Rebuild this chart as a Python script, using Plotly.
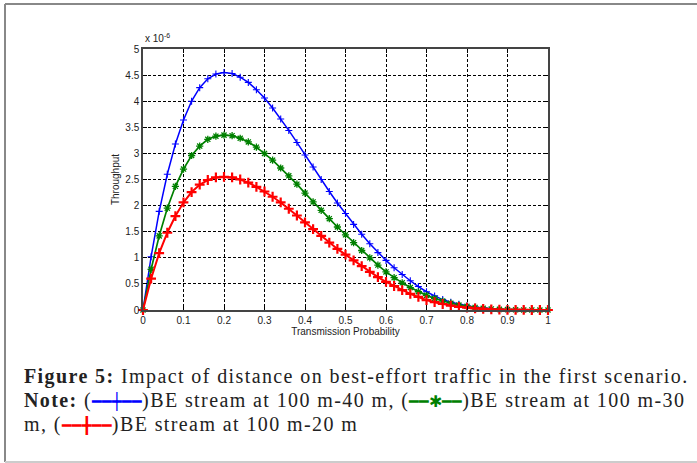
import plotly.graph_objects as go

# Transmission probability grid (0 to 1 in steps of 0.02)
prob = [round(i * 0.02, 2) for i in range(51)]

# Throughput (x 1e-6) for each BE stream
be_40m = [0, 1.02, 1.89, 2.60, 3.18, 3.64, 4.00, 4.26, 4.43, 4.52, 4.55, 4.53, 4.46, 4.36, 4.22,
          4.06, 3.87, 3.66, 3.44, 3.21, 2.97, 2.74, 2.50, 2.27, 2.05, 1.85, 1.64, 1.45, 1.27, 1.10,
          0.95, 0.81, 0.68, 0.56, 0.45, 0.35, 0.27, 0.20, 0.15, 0.11, 0.08, 0.055, 0.037, 0.024,
          0.014, 0.008, 0.004, 0.002, 0.001, 0, 0]
be_30m = [0, 0.78, 1.42, 1.95, 2.37, 2.70, 2.96, 3.14, 3.27, 3.33, 3.35, 3.34, 3.29, 3.22, 3.12,
          3.00, 2.87, 2.72, 2.57, 2.41, 2.24, 2.07, 1.91, 1.75, 1.59, 1.44, 1.29, 1.14, 1.00, 0.86,
          0.73, 0.62, 0.52, 0.43, 0.35, 0.28, 0.22, 0.17, 0.13, 0.095, 0.07, 0.05, 0.033, 0.02,
          0.012, 0.007, 0.004, 0.002, 0.001, 0, 0]
be_20m = [0, 0.60, 1.09, 1.48, 1.80, 2.06, 2.26, 2.40, 2.49, 2.54, 2.55, 2.54, 2.50, 2.44, 2.36,
          2.27, 2.17, 2.06, 1.94, 1.81, 1.68, 1.55, 1.42, 1.29, 1.17, 1.06, 0.95, 0.84, 0.73, 0.63,
          0.54, 0.46, 0.38, 0.31, 0.25, 0.19, 0.15, 0.115, 0.085, 0.06, 0.045, 0.03, 0.02, 0.012,
          0.007, 0.004, 0.002, 0.001, 0, 0, 0]

x_ticks = [0, 0.1, 0.2, 0.3, 0.4, 0.5, 0.6, 0.7, 0.8, 0.9, 1]
x_tick_text = ["0", "0.1", "0.2", "0.3", "0.4", "0.5", "0.6", "0.7", "0.8", "0.9", "1"]
y_ticks = [0, 0.5, 1, 1.5, 2, 2.5, 3, 3.5, 4, 4.5, 5]
y_tick_text = ["0", "0.5", "1", "1.5", "2", "2.5", "3", "3.5", "4", "4.5", "5"]

W, H = 697, 463
# plot box in pixels
left, right, top, bottom = 143, 548, 49, 310

fig = go.Figure()

series = [
    (be_40m, "#0000ff", "cross-thin", 5, 1.1, 1.5),
    (be_30m, "#008000", "asterisk-open", 6, 1.3, 1.7),
    (be_20m, "#ff0000", "cross-thin", 7, 2.2, 2.0),
]
for ys, col, sym, msize, mlw, lw in series:
    fig.add_trace(go.Scatter(
        x=prob, y=ys, mode="lines+markers", cliponaxis=False,
        line=dict(color=col, width=lw),
        marker=dict(symbol=sym, size=msize, line=dict(color=col, width=mlw)),
        showlegend=False,
    ))

axis_font = dict(family="Liberation Sans, Arial, sans-serif", size=10, color="#222")
grid_common = dict(
    showgrid=True, gridcolor="#000", gridwidth=1, griddash="3px,2px",
    ticks="inside", ticklen=4, tickcolor="#000", mirror="allticks",
    showline=True, linecolor="#444", linewidth=1.5, zeroline=False,
    tickfont=axis_font, automargin=False,
)

fig.update_layout(
    width=W, height=H,
    margin=dict(l=0, r=0, t=0, b=0),
    paper_bgcolor="white", plot_bgcolor="white",
    xaxis=dict(
        range=[0, 1], tickvals=x_ticks, ticktext=x_tick_text,
        domain=[left / W, right / W], anchor="y",
        title=dict(text="Transmission Probability", font=axis_font, standoff=2),
        **grid_common,
    ),
    yaxis=dict(
        range=[0, 5], tickvals=y_ticks, ticktext=y_tick_text,
        domain=[(H - bottom) / H, (H - top) / H], anchor="x",
        title=dict(text="Throughput", font=axis_font, standoff=4),
        **grid_common,
    ),
)

# exponent label above the y axis
fig.add_annotation(
    x=left / W, y=(H - top + 3) / H, xref="paper", yref="paper",
    xanchor="left", yanchor="bottom", showarrow=False,
    text="x 10<sup>-6</sup>", font=axis_font,
)

# outer frame of the figure panel
fig.add_shape(type="line", xref="paper", yref="paper", x0=5 / W, x1=1, y0=(H - 4) / H, y1=(H - 4) / H,
              line=dict(color="#888", width=2))
fig.add_shape(type="line", xref="paper", yref="paper", x0=5 / W, x1=5 / W, y0=(H - 4) / H, y1=1 / H,
              line=dict(color="#888", width=2))
fig.add_shape(type="line", xref="paper", yref="paper", x0=5 / W, x1=1, y0=1 / H, y1=1 / H,
              line=dict(color="#ccc", width=2))

cap_font = dict(family="Liberation Serif, Times New Roman, serif", size=20, color="#222")
spacing = "letter-spacing:1.4px"
sample = "letter-spacing:0px;font-size:16px;color:{}"
blue_s = f"<span style='{sample.format('#0000ff')}'>━━┿━━</span>"
green_s = f"<span style='{sample.format('#008000')}'>━━✱━━</span>"
red_s = f"<span style='{sample.format('#ff0000')}'>━━╋━━</span>"
caption_lines = [
    "<b>Figure 5:</b> Impact of distance on best-effort traffic in the first scenario.",
    f"<b>Note:</b> ({blue_s})BE stream at 100 m-40 m, ({green_s})BE stream at 100 m-30",
    f"m, ({red_s})BE stream at 100 m-20 m",
]
for i, line in enumerate(caption_lines):
    yc = 376 + 24 * i
    fig.add_annotation(
        x=22 / W, y=(H - yc) / H, xref="paper", yref="paper",
        xanchor="left", yanchor="middle", showarrow=False,
        text=f"<span style='{spacing}'>{line}</span>", font=cap_font, align="left",
    )

fig.write_html("out.html")
